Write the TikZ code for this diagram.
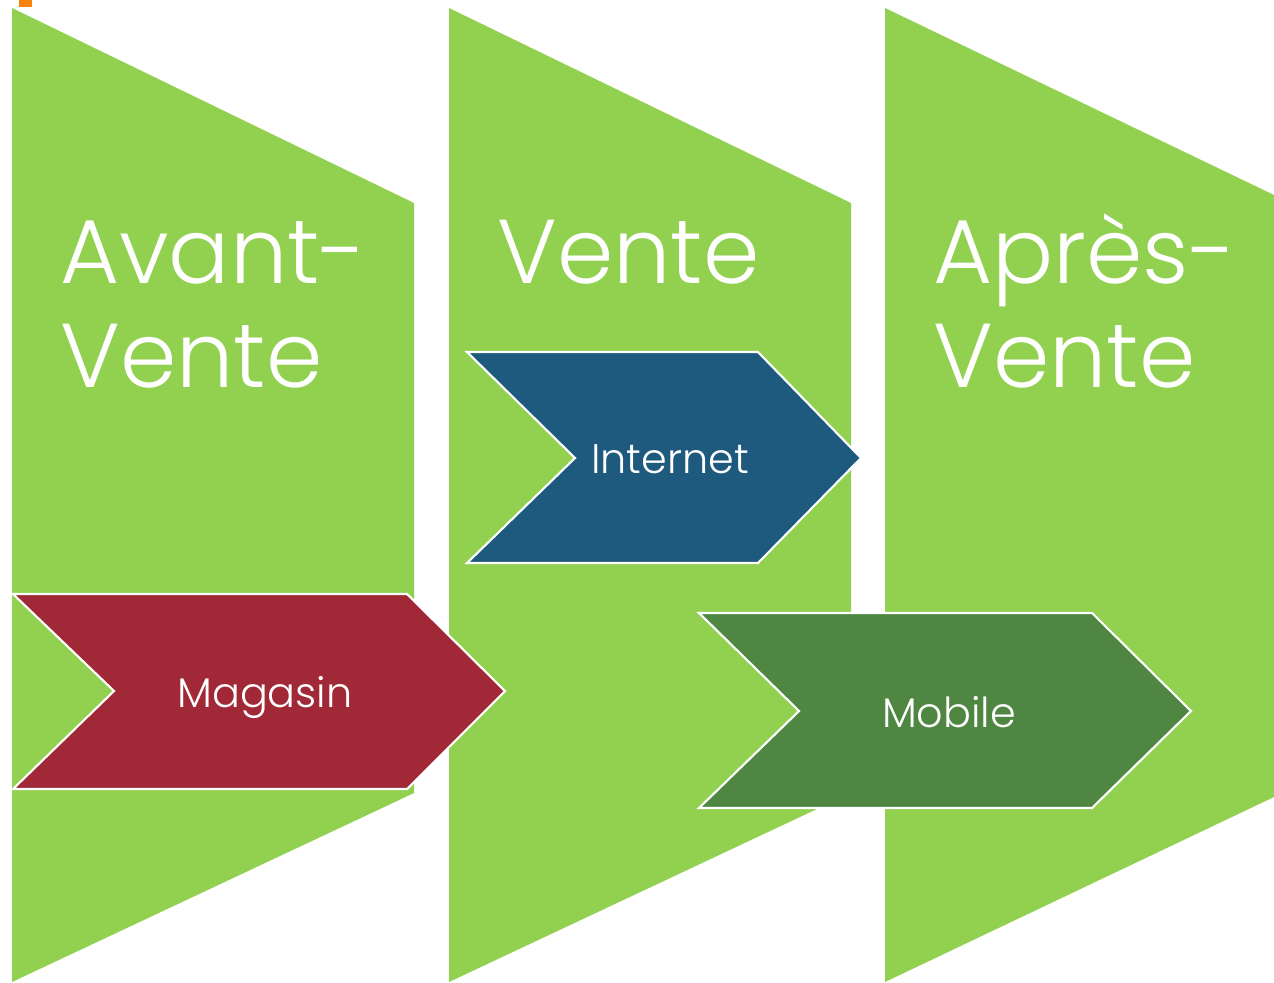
\documentclass[tikz,border=0pt]{standalone}
\usepackage{fontspec}
\IfFontExistsTF{Poppins Light}{\setmainfont{Poppins Light}}{\setmainfont{Poppins}}
\usepackage{tikz}

\definecolor{phasegreen}{HTML}{92D050}
\definecolor{netblue}{HTML}{1E5A7D}
\definecolor{shopred}{HTML}{A02837}
\definecolor{mobgreen}{HTML}{4F8742}
\definecolor{markorange}{HTML}{F7830F}

\tikzset{
  phase/.style={fill=phasegreen,draw=none},
  channel/.style={draw=white,line width=1.6pt,line join=miter},
  bigtext/.style={anchor=base west,inner sep=0pt,text=white,font=\fontsize{68}{78}\selectfont},
  smalltext/.style={anchor=base,inner sep=0pt,text=white,font=\fontsize{31}{36}\selectfont}
}

\begin{document}
\begin{tikzpicture}[x=0.75pt,y=0.75pt,yscale=-1,xscale=1]
\useasboundingbox (0,0) rectangle (1274,982);

% Shape
\fill [markorange] (19,0) rectangle (32,7);
% Shape
\path [phase] (12,8) -- (414,203) -- (414,793) -- (12,982) -- cycle;
% Shape
\path [phase] (449,8) -- (851,203) -- (851,793) -- (449,982) -- cycle;
% Shape
\path [phase] (885,8) -- (1274,195) -- (1274,797) -- (885,982) -- cycle;

% Text Node
\draw (60,283) node [bigtext] (avant1) {Avant-};
% Text Node
\draw (60,387) node [bigtext] (avant2) {Vente};
% Text Node
\draw (497,283) node [bigtext] (vente) {Vente};
% Text Node
\draw (933,283) node [bigtext] (apres1) {Après-};
% Text Node
\draw (933,387) node [bigtext] (apres2) {Vente};

% Shape
\draw [channel,fill=netblue] (467,352) -- (758,352) -- (861,458) -- (758,563) -- (467,563) -- (575,458) -- cycle;
% Shape
\draw [channel,fill=shopred] (13,594) -- (407,594) -- (505,691) -- (407,789) -- (13,789) -- (114,691) -- cycle;
% Shape
\draw [channel,fill=mobgreen] (699,613) -- (1092,613) -- (1191,711) -- (1092,808) -- (699,808) -- (799,711) -- cycle;

% Text Node
\draw (670,473) node [smalltext] (internet) {Internet};
% Text Node
\draw (265,707) node [smalltext] (magasin) {Magasin};
% Text Node
\draw (949,727) node [smalltext] (mobile) {Mobile};

\end{tikzpicture}
\end{document}
